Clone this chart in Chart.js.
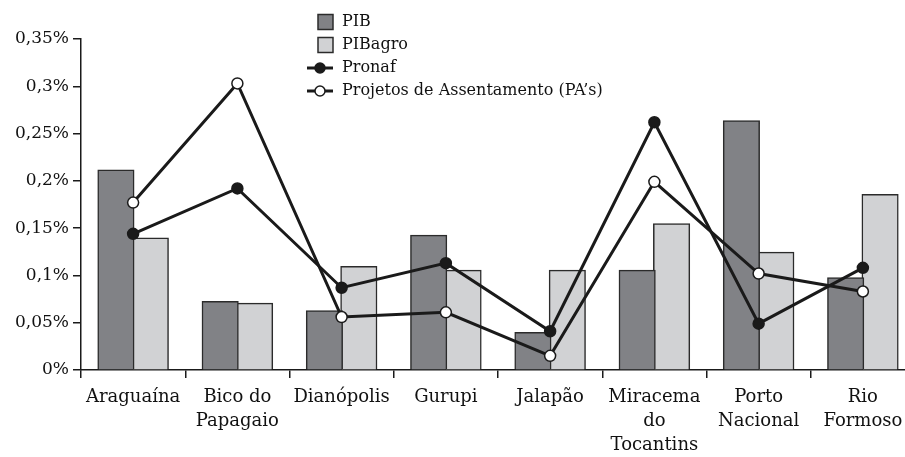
<!DOCTYPE html>
<html>
<head>
<meta charset="utf-8">
<script src="https://cdn.jsdelivr.net/npm/chart.js@4"></script>
<style>
  html, body { margin: 0; padding: 0; background: #fff; overflow: hidden; }
  #wrap { width: 925px; height: 457px; position: relative; }
</style>
</head>
<body>
<div id="wrap"><canvas id="chart"></canvas></div>
<script>
// categorias (regiões do Tocantins)
const categories = [
    ["Araguaína"], ["Bico do", "Papagaio"], ["Dianópolis"], ["Gurupi"],
    ["Jalapão"], ["Miracema", "do", "Tocantins"], ["Porto", "Nacional"], ["Rio", "Formoso"]
];

// valores em %
const pib = [0.211, 0.072, 0.062, 0.142, 0.039, 0.105, 0.263, 0.097];
const pibAgro = [0.139, 0.070, 0.109, 0.105, 0.105, 0.154, 0.124, 0.185];
const pronaf = [0.144, 0.192, 0.087, 0.113, 0.041, 0.262, 0.049, 0.108];
const assentamentos = [0.177, 0.303, 0.056, 0.061, 0.015, 0.199, 0.102, 0.083];

const yTickLabels = ["0%", "0,05%", "0,1%", "0,15%", "0,2%", "0,25%", "0,3%", "0,35%"];

const fontFamily = "'DejaVu Serif', serif";
const ink = "#1a1a1a";

Chart.defaults.font.family = fontFamily;
Chart.defaults.font.size = 16;
Chart.defaults.color = "#111";

// legenda desenhada à mão (lista vertical no topo)
const legendPlugin = {
    id: "verticalLegend",
    afterDraw(chart) {
        const ctx = chart.ctx;
        const x0 = 307, textX = 342, rowH = 23, y0 = 22;
        ctx.save();
        ctx.font = "16px " + fontFamily;
        ctx.textBaseline = "middle";
        chart.data.datasets.forEach((ds, i) => {
            const y = y0 + i * rowH;
            if (ds.type === "line") {
                ctx.strokeStyle = ds.borderColor;
                ctx.lineWidth = 3;
                ctx.beginPath();
                ctx.moveTo(x0, y);
                ctx.lineTo(333, y);
                ctx.stroke();
                ctx.beginPath();
                ctx.arc(320, y, 5, 0, Math.PI * 2);
                ctx.fillStyle = ds.pointBackgroundColor;
                ctx.fill();
                ctx.lineWidth = 1.5;
                ctx.strokeStyle = ds.pointBorderColor;
                ctx.stroke();
            } else {
                ctx.fillStyle = ds.backgroundColor;
                ctx.fillRect(318, y - 7.5, 15, 15);
                ctx.lineWidth = 1.5;
                ctx.strokeStyle = ds.borderColor;
                ctx.strokeRect(318, y - 7.5, 15, 15);
            }
            ctx.fillStyle = "#111";
            ctx.fillText(ds.label, textX, y);
        });
        ctx.restore();
    }
};

const ctx = document.getElementById("chart").getContext("2d");
const chart = new Chart(ctx, {
    data: {
        labels: categories,
        datasets: [
            {
                type: "bar", label: "PIB", data: pib, order: 2,
                backgroundColor: "#818286", borderColor: "#2b2b2b", borderWidth: 1.5,
                categoryPercentage: 0.66, barPercentage: 1.02, inflateAmount: 1
            },
            {
                type: "bar", label: "PIBagro", data: pibAgro, order: 2,
                backgroundColor: "#d1d2d4", borderColor: "#2b2b2b", borderWidth: 1.5,
                categoryPercentage: 0.66, barPercentage: 1.02, inflateAmount: 1
            },
            {
                type: "line", label: "Pronaf", data: pronaf, order: 1,
                borderColor: ink, borderWidth: 3, tension: 0,
                pointRadius: 5.5, pointBackgroundColor: ink, pointBorderColor: ink, pointBorderWidth: 1.5
            },
            {
                type: "line", label: "Projetos de Assentamento (PA’s)", data: assentamentos, order: 0,
                borderColor: ink, borderWidth: 3, tension: 0,
                pointRadius: 5.5, pointBackgroundColor: "#ffffff", pointBorderColor: ink, pointBorderWidth: 1.5
            }
        ]
    },
    options: {
        responsive: true,
        maintainAspectRatio: false,
        animation: false,
        layout: { padding: { top: 39, right: 10, left: 0, bottom: 0 } },
        plugins: { legend: { display: false }, tooltip: { enabled: false } },
        scales: {
            x: {
                offset: true,
                grid: { offset: true, drawOnChartArea: false, drawTicks: true, tickLength: 8, color: ink, lineWidth: 1.5 },
                border: { display: true, color: ink, width: 1.5 },
                ticks: { padding: 7, maxRotation: 0, autoSkip: false, font: { size: 18, lineHeight: 1.33 } },
                afterFit: (s) => { s.height = 87; }
            },
            y: {
                min: 0, max: 0.35,
                grid: { drawOnChartArea: false, drawTicks: true, tickLength: 8, color: ink, lineWidth: 1.5 },
                border: { display: true, color: ink, width: 1.5 },
                ticks: { stepSize: 0.05, padding: 4, font: { size: 17 }, callback: (v, i) => yTickLabels[i] },
                afterFit: (s) => { s.width = 81; }
            }
        }
    },
    plugins: [legendPlugin]
});
</script>
</body>
</html>
